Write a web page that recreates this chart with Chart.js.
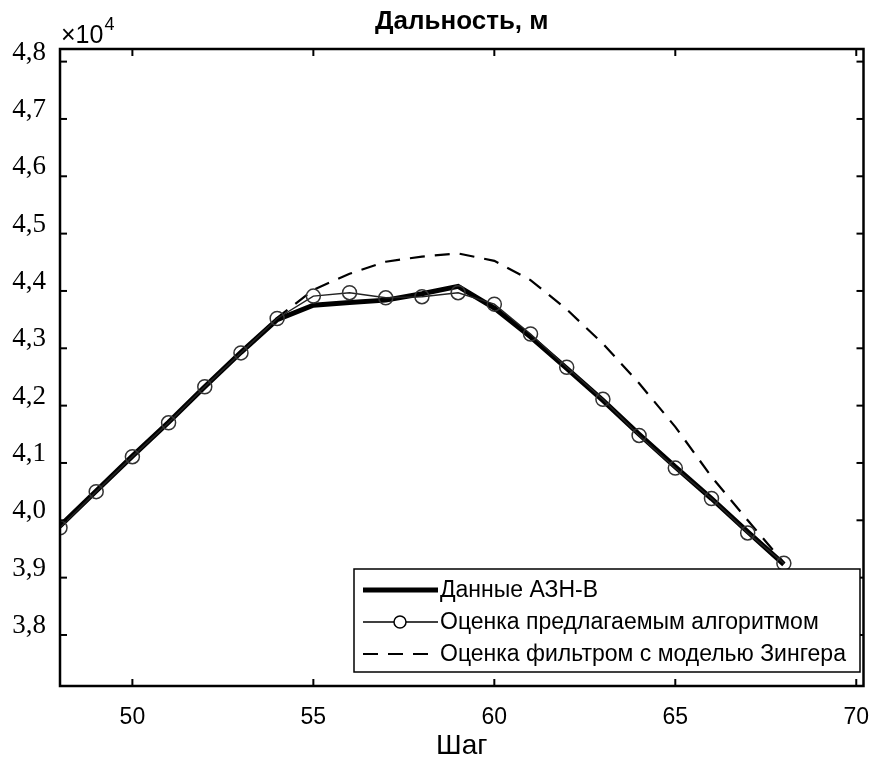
<!DOCTYPE html>
<html lang="ru">
<head>
<meta charset="UTF-8">
<title>Дальность, м</title>
<script src="https://cdn.jsdelivr.net/npm/chart.js@4.4.0/dist/chart.umd.min.js"></script>
<style>
  html, body { margin: 0; padding: 0; background: #fff; }
</style>
</head>
<body>
<canvas id="chart" width="872" height="763"></canvas>
<script>
// шаги и дальности (м)
const steps = [48, 49, 50, 51, 52, 53, 54, 55, 56, 57, 58, 59, 60, 61, 62, 63, 64, 65, 66, 67, 68];
const adsb = [39900, 40510, 41120, 41710, 42330, 42930, 43500, 43750, 43800, 43840, 43950, 44080,
              43700, 43200, 42650, 42090, 41500, 40930, 40380, 39800, 39230];
const proposed = [39870, 40500, 41110, 41700, 42330, 42920, 43520, 43910, 43970, 43880, 43900, 43970,
                  43770, 43250, 42670, 42110, 41480, 40910, 40380, 39780, 39250];
const singer = [39870, 40500, 41110, 41700, 42320, 42920, 43530, 44020, 44300, 44510, 44600, 44655,
                44525, 44190, 43680, 43080, 42390, 41630, 40760, 40000, 39260];
const xTicks = [50, 55, 60, 65, 70];
const yTicks = [38000, 39000, 40000, 41000, 42000, 43000, 44000, 45000, 46000, 47000, 48000];
const seriesNames = ['Данные АЗН-В', 'Оценка предлагаемым алгоритмом', 'Оценка фильтром с моделью Зингера'];
const chartTitle = 'Дальность, м';
const xTitle = 'Шаг';

function pts(vals) {
    return steps.map((s, i) => ({ x: s, y: vals[i] }));
}

// рамка, засечки внутрь, заголовок, множитель и легенда
const extras = {
    id: 'extras',
    afterDraw(chart) {
        const ctx = chart.ctx;
        const a = chart.chartArea;
        const x = chart.scales.x, y = chart.scales.y;
        const seg = (x1, y1, x2, y2) => { ctx.beginPath(); ctx.moveTo(x1, y1); ctx.lineTo(x2, y2); ctx.stroke(); };
        ctx.save();
        ctx.strokeStyle = '#000';
        ctx.lineWidth = 2;
        xTicks.forEach(v => {
            const px = x.getPixelForValue(v);
            seg(px, a.bottom, px, a.bottom - 7);
            seg(px, a.top, px, a.top + 7);
        });
        yTicks.forEach(v => {
            const py = y.getPixelForValue(v);
            seg(a.left, py, a.left + 7, py);
            seg(a.right, py, a.right - 7, py);
        });
        ctx.lineWidth = 2.5;
        ctx.strokeRect(a.left, a.top, a.right - a.left, a.bottom - a.top);

        // заголовок
        ctx.fillStyle = '#000';
        ctx.font = 'bold 26px "Liberation Sans", Arial, sans-serif';
        ctx.textAlign = 'center';
        ctx.textBaseline = 'middle';
        ctx.fillText(chartTitle, (a.left + a.right) / 2, 22);

        // множитель x10^4
        ctx.textAlign = 'left';
        ctx.textBaseline = 'alphabetic';
        ctx.font = '25px "Liberation Sans", Arial, sans-serif';
        ctx.fillText('\u00d710', 61, 43);
        const w = ctx.measureText('\u00d710').width;
        ctx.font = '18px "Liberation Sans", Arial, sans-serif';
        ctx.fillText('4', 61 + w + 1, 30);

        // легенда
        const bx = 354, by = 569, bw = 506, bh = 103;
        ctx.fillStyle = '#fff';
        ctx.fillRect(bx, by, bw, bh);
        ctx.lineWidth = 1.5;
        ctx.strokeRect(bx, by, bw, bh);
        const rows = [590, 622, 654];
        const ds = chart.data.datasets;
        ctx.font = '23px "Liberation Sans", Arial, sans-serif';
        ctx.textBaseline = 'middle';
        rows.forEach((ry, i) => {
            const d = ds[i];
            ctx.strokeStyle = '#000';
            ctx.lineWidth = d.borderWidth;
            ctx.setLineDash(d.borderDash || []);
            seg(363, ry, 438, ry);
            ctx.setLineDash([]);
            if (d.pointRadius > 0) {
                ctx.fillStyle = '#fff';
                ctx.lineWidth = 1.5;
                ctx.beginPath();
                ctx.arc(400, ry, 6, 0, Math.PI * 2);
                ctx.fill();
                ctx.stroke();
            }
            ctx.fillStyle = '#000';
            ctx.fillText(d.label, 440, ry + 1);
        });
        ctx.restore();
    }
};

new Chart(document.getElementById('chart'), {
    type: 'line',
    data: {
        datasets: [
            {
                label: seriesNames[0],
                data: pts(adsb),
                borderColor: '#000',
                borderWidth: 5,
                pointRadius: 0,
                order: 2
            },
            {
                label: seriesNames[1],
                data: pts(proposed),
                borderColor: '#222',
                borderWidth: 1.5,
                pointRadius: 7,
                pointBorderWidth: 1.5,
                pointBackgroundColor: 'rgba(0,0,0,0)',
                pointBorderColor: '#333',
                order: 1
            },
            {
                label: seriesNames[2],
                data: pts(singer),
                borderColor: '#000',
                borderWidth: 2.2,
                borderDash: [15, 10],
                pointRadius: 0,
                order: 3
            }
        ]
    },
    options: {
        responsive: false,
        animation: false,
        layout: { padding: { top: 49, right: 6, left: 0, bottom: 0 } },
        plugins: {
            legend: { display: false },
            tooltip: { enabled: false }
        },
        scales: {
            x: {
                type: 'linear',
                min: 48,
                max: 70.2,
                afterBuildTicks: s => { s.ticks = xTicks.map(v => ({ value: v })); },
                afterFit: s => { s.height = 77; s.paddingRight = 0; s.paddingLeft = 0; },
                grid: { display: false, drawTicks: false },
                border: { display: false },
                ticks: {
                    padding: 18,
                    color: '#000',
                    font: { family: '"Liberation Sans Narrow", "Liberation Sans", Arial, sans-serif', size: 23 },
                    callback: v => String(v)
                },
                title: {
                    display: true,
                    text: xTitle,
                    color: '#000',
                    padding: { top: 4, bottom: 0 },
                    font: { family: '"Liberation Sans Narrow", "Liberation Sans", Arial, sans-serif', size: 28 }
                }
            },
            y: {
                type: 'linear',
                min: 37110,
                max: 48220,
                afterBuildTicks: s => { s.ticks = yTicks.map(v => ({ value: v })); },
                afterFit: s => { s.width = 60; },
                grid: { display: false, drawTicks: false },
                border: { display: false },
                ticks: {
                    padding: 14,
                    labelOffset: -9,
                    color: '#000',
                    font: { family: '"Liberation Serif", "Times New Roman", serif', size: 27 },
                    callback: v => (v / 10000).toFixed(1).replace('.', ',')
                }
            }
        }
    },
    plugins: [extras]
});
</script>
</body>
</html>
